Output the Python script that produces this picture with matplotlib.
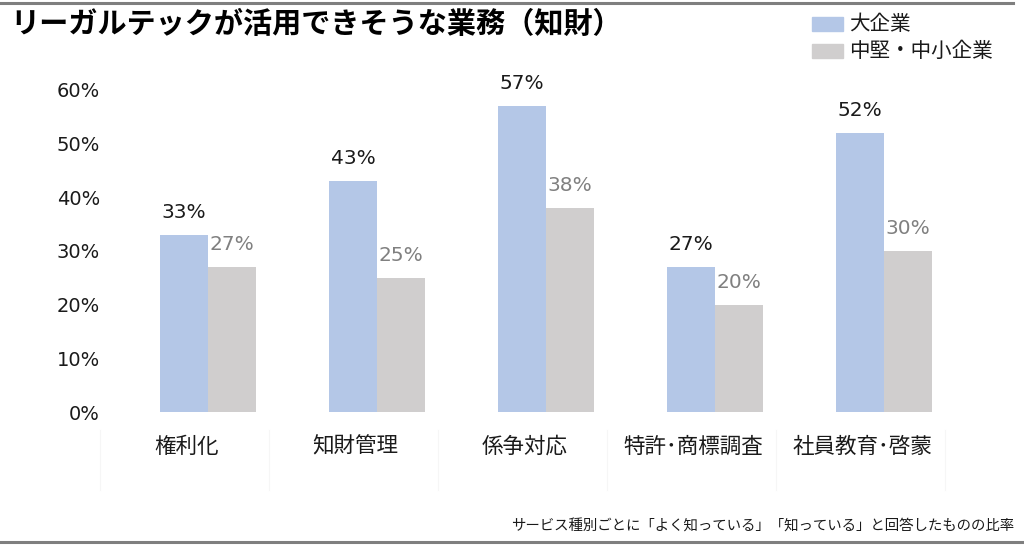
import matplotlib
matplotlib.use('Agg')
import matplotlib.pyplot as plt
import numpy as np

plt.rcParams['font.family'] = ['Noto Sans CJK JP', 'DejaVu Sans']

title = 'リーガルテックが活用できそうな業務（知財）'
categories = ['権利化', '知財管理', '係争対応', '特許･商標調査', '社員教育･啓蒙']
large = [0.33, 0.43, 0.57, 0.27, 0.52]
small = [0.27, 0.25, 0.38, 0.20, 0.30]
series_names = ['大企業', '中堅・中小企業']
yticks = [0, 0.1, 0.2, 0.3, 0.4, 0.5, 0.6]
note = 'サービス種別ごとに「よく知っている」「知っている」と回答したものの比率'

c_blue = '#b4c7e7'
c_gray = '#d0cece'

fig = plt.figure(figsize=(10.24, 5.48), dpi=100)
ax = fig.add_axes([100 / 1024, 136 / 548, 845 / 1024, 322 / 548])

x = np.arange(len(categories))
w = 48 / 169
ax.bar(x - w / 2, large, w, color=c_blue)
ax.bar(x + w / 2, small, w, color=c_gray)

for xi, v in zip(x, large):
    ax.text(xi - w / 2, v + 0.024, f'{v*100:.0f}%', ha='center', va='bottom',
            fontsize=14.5, color='#1a1a1a', family='DejaVu Sans', clip_on=False)
for xi, v in zip(x, small):
    ax.text(xi + w / 2, v + 0.024, f'{v*100:.0f}%', ha='center', va='bottom',
            fontsize=14.5, color='#808080', family='DejaVu Sans', clip_on=False)

ax.set_xlim(-0.64, 4.36)
ax.set_ylim(0, 0.6)
ax.set_yticks(yticks)
ax.set_yticklabels([f'{t*100:.0f}%' for t in yticks], family='DejaVu Sans',
                   fontsize=14, color='#1a1a1a')
ax.set_xticks(x - 0.13)
ax.set_xticklabels(categories, fontsize=15.5, color='#1a1a1a')
ax.tick_params(length=0)
ax.tick_params(axis='x', pad=17)
ax.tick_params(axis='y', pad=0)
for s in ax.spines.values():
    s.set_visible(False)

# faint separators under the category labels
trans = matplotlib.transforms.blended_transform_factory(ax.transData, fig.transFigure)
for k in range(len(categories) + 1):
    ax.plot([-0.64 + k, -0.64 + k], [58 / 548, 118 / 548], color='#f6f6f6',
            lw=0.8, transform=trans, clip_on=False)

# legend
for i, (name, col) in enumerate(zip(series_names, [c_blue, c_gray])):
    yc = 1 - (24 + 27 * i) / 548
    fig.patches.append(matplotlib.patches.Rectangle((812 / 1024, yc - 7 / 548), 31 / 1024, 14 / 548,
                                                    color=col, transform=fig.transFigure))
    fig.text(849 / 1024, yc, name, fontsize=14.8, va='center', ha='left', color='#1a1a1a')

fig.text(10 / 1024, 1 - 24 / 548, title, fontsize=21, fontweight='bold', va='center', ha='left')
fig.text(1014 / 1024, 1 - 527 / 548, note, fontsize=10.4, va='center', ha='right', color='#1a1a1a')

fig.add_artist(matplotlib.lines.Line2D([0, 1013 / 1024], [1 - 3 / 548] * 2, color='#7f7f7f', lw=2.2))
fig.add_artist(matplotlib.lines.Line2D([0, 1], [1 - 542 / 548] * 2, color='#7f7f7f', lw=2.2))

fig.savefig('out.png', dpi=100)
